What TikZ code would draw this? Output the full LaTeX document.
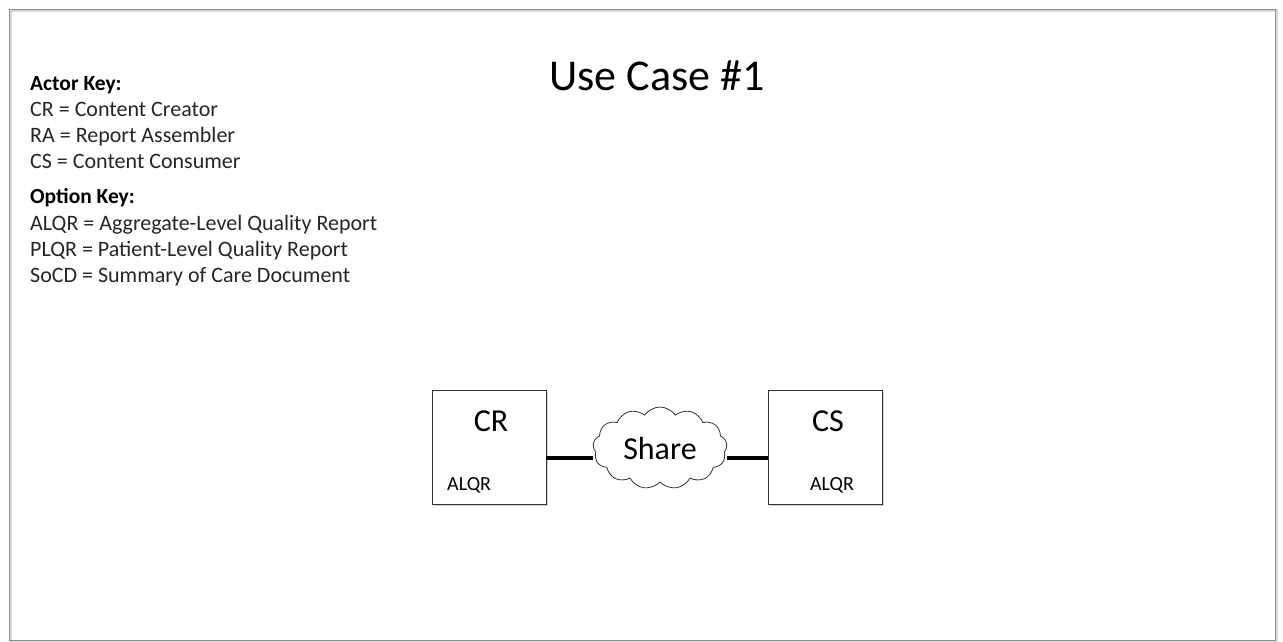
\documentclass[tikz,border=0pt]{standalone}
\usepackage{fontspec}
\setmainfont{Carlito}
\usetikzlibrary{shapes.symbols,shadows}
\begin{document}
\begin{tikzpicture}[x=1pt,y=-1pt,
  actor/.style={draw=black!80,line width=0.8pt,fill=white,minimum width=114pt,minimum height=114pt,inner sep=0pt,drop shadow={shadow xshift=1.5pt,shadow yshift=-1.5pt,opacity=0.35}},
  keyhead/.style={anchor=base west,font=\fontsize{21.5}{25}\selectfont\bfseries,inner sep=0pt},
  keyline/.style={anchor=base west,font=\fontsize{22}{26}\selectfont,inner sep=0pt,text=black!85},
  link/.style={line width=3.3pt}]
\useasboundingbox (0,0) rectangle (1283,641);
\fill[white] (0,0) rectangle (1283,641);
\draw[black!15,line width=3pt] (10,10) rectangle (1276,642);
\draw[black!45,line width=0.8pt] (9,9) rectangle (1275,640);
\node[anchor=base,font=\fontsize{44}{52}\selectfont,inner sep=0pt] (title) at (657,90) {Use Case \#1};
\node[keyhead] (ak) at (30,90) {Actor Key:};
\node[keyline] (k1) at (30,116) {CR = Content Creator};
\node[keyline] (k2) at (30,142) {RA = Report Assembler};
\node[keyline] (k3) at (30,168) {CS = Content Consumer};
\node[keyhead] (ok) at (30,203) {Option Key:};
\node[keyline] (o1) at (30,230) {ALQR = Aggregate-Level Quality Report};
\node[keyline] (o2) at (30,256) {PLQR = Patient-Level Quality Report};
\node[keyline] (o3) at (30,282) {SoCD = Summary of Care Document};
\node[actor] (cr) at (489,447) {};
\node[actor] (cs) at (825.5,447) {};
\node[anchor=base,font=\fontsize{32}{36}\selectfont,inner sep=0pt] (crt) at (491,431) {CR};
\node[anchor=base,font=\fontsize{32}{36}\selectfont,inner sep=0pt] (cst) at (828,431) {CS};
\node[anchor=base west,font=\fontsize{20}{24}\selectfont,inner sep=0pt] (cra) at (447,490) {ALQR};
\node[anchor=base,font=\fontsize{20}{24}\selectfont,inner sep=0pt] (csa) at (832,490) {ALQR};
\node[cloud,cloud puffs=13,cloud puff arc=110,aspect=1.7,draw=black!80,line width=0.8pt,fill=white,minimum width=134pt,minimum height=82pt,inner sep=0pt,font=\fontsize{32}{36}\selectfont] (share) at (660,448) {Share};
\draw[link] (cr.east |- 0,458) -- (share.west |- 0,458);
\draw[link] (share.east |- 0,458) -- (cs.west |- 0,458);
\end{tikzpicture}
\end{document}
